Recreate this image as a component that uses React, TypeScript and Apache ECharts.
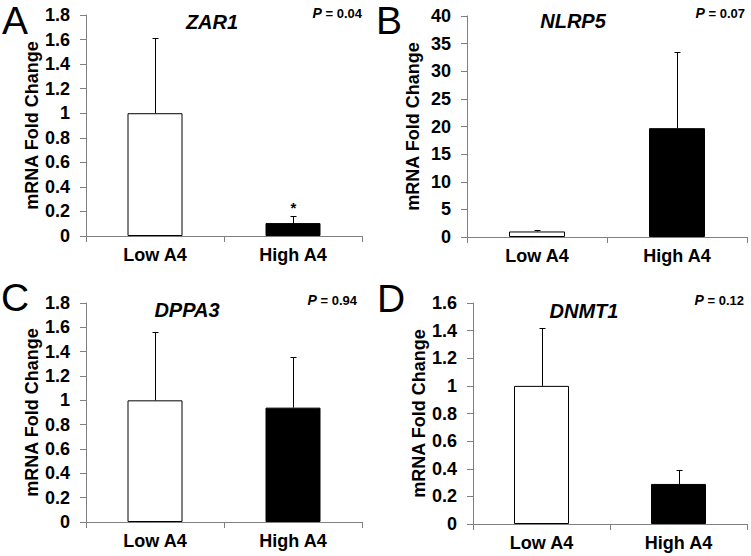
import React, { useEffect, useRef } from "react";
import * as echarts from "echarts";

// ---- data ----
const categories = ["Low A4", "High A4"];
const genes = ["ZAR1", "NLRP5", "DPPA3", "DNMT1"];
const panelLetters = ["A", "B", "C", "D"];
const pValues = ["0.04", "0.07", "0.94", "0.12"];

const zar1Mean = [1.0, 0.105];
const zar1ErrTop = [1.61, 0.165];
const zar1Marks = ["", "*"];

const nlrp5Mean = [1.0, 19.7];
const nlrp5ErrTop = [1.3, 33.5];
const nlrp5Marks = ["", ""];

const dppa3Mean = [1.0, 0.94];
const dppa3ErrTop = [1.565, 1.355];
const dppa3Marks = ["", ""];

const dnmt1Mean = [1.0, 0.29];
const dnmt1ErrTop = [1.42, 0.39];
const dnmt1Marks = ["", ""];

const yMax = [1.8, 40, 1.8, 1.6];
const yInterval = [0.2, 5, 0.2, 0.2];

const means = [zar1Mean, nlrp5Mean, dppa3Mean, dnmt1Mean];
const errTops = [zar1ErrTop, nlrp5ErrTop, dppa3ErrTop, dnmt1ErrTop];
const marks = [zar1Marks, nlrp5Marks, dppa3Marks, dnmt1Marks];

// ---- layout ----
const grids = [
  { left: 86, top: 15, width: 276, height: 221 },
  { left: 467, top: 16, width: 280, height: 221 },
  { left: 86, top: 303, width: 276, height: 219 },
  { left: 473, top: 303, width: 274, height: 221 },
];
const barWidths = [55, 56, 55, 55];
const titlePos = [
  [212, 22],
  [573, 21],
  [187, 310],
  [584, 311],
];
const pPos = [
  [362, 13],
  [745, 13],
  [357, 300],
  [744, 300],
];
const letterPos = [
  [2, 1],
  [376, 1],
  [1, 278],
  [377, 279],
];

const FONT = '"Liberation Sans", Arial, sans-serif';
const AXIS_COLOR = "#808080";

export default function App() {
  const ref = useRef<HTMLDivElement>(null);
  useEffect(() => {
    document.body.style.margin = "0";
    const chart = echarts.init(ref.current!, null, { renderer: "svg" });

    const xAxis: any[] = [];
    const yAxis: any[] = [];
    const series: any[] = [];
    const graphic: any[] = [];

    for (let i = 0; i < 4; i++) {
      xAxis.push({
        type: "category",
        gridIndex: i,
        data: categories,
        axisLine: { lineStyle: { color: AXIS_COLOR, width: 1 } },
        axisTick: { show: true, length: 6, lineStyle: { color: AXIS_COLOR } },
        axisLabel: {
          color: "#000",
          fontFamily: FONT,
          fontWeight: "bold",
          fontSize: 18,
          margin: 10,
        },
      });
      yAxis.push({
        type: "value",
        gridIndex: i,
        min: 0,
        max: yMax[i],
        interval: yInterval[i],
        name: "mRNA Fold Change",
        nameLocation: "middle",
        nameRotate: 90,
        nameGap: 45,
        nameTextStyle: {
          color: "#000",
          fontFamily: FONT,
          fontWeight: "bold",
          fontSize: 18,
        },
        axisLine: { show: true, lineStyle: { color: AXIS_COLOR, width: 1 } },
        axisTick: { show: true, length: 6, lineStyle: { color: AXIS_COLOR } },
        splitLine: { show: false },
        axisLabel: {
          color: "#000",
          fontFamily: FONT,
          fontWeight: "bold",
          fontSize: 18,
          margin: 16,
        },
      });

      series.push({
        type: "bar",
        xAxisIndex: i,
        yAxisIndex: i,
        barWidth: barWidths[i],
        data: means[i].map((v, k) => ({
          value: v,
          itemStyle: {
            color: k === 0 ? "#ffffff" : "#000000",
            borderColor: "#000",
            borderWidth: 1,
          },
        })),
        silent: true,
        z: 2,
      });

      const m = marks[i];
      series.push({
        type: "custom",
        xAxisIndex: i,
        yAxisIndex: i,
        data: means[i].map((v, k) => [k, v, errTops[i][k]]),
        encode: { x: 0, y: [1, 2] },
        z: 3,
        silent: true,
        renderItem: (params: any, api: any) => {
          const x = api.value(0);
          const mean = api.value(1);
          const top = api.value(2);
          const p0 = api.coord([x, mean]);
          const p1 = api.coord([x, top]);
          const cx = Math.round(p0[0]) + 0.5;
          const ty = Math.round(p1[1]) + 0.5;
          const cap = 3;
          const children: any[] = [
            {
              type: "line",
              shape: { x1: cx, y1: p0[1], x2: cx, y2: ty },
              style: { stroke: "#000", lineWidth: 1 },
            },
            {
              type: "line",
              shape: { x1: cx - cap, y1: ty, x2: cx + cap, y2: ty },
              style: { stroke: "#000", lineWidth: 1 },
            },
          ];
          const mk = m[params.dataIndex];
          if (mk) {
            children.push({
              type: "text",
              x: cx,
              y: ty - 2,
              style: {
                text: mk,
                font: `bold 15px ${FONT}`,
                align: "center",
                verticalAlign: "bottom",
                fill: "#000",
              },
            });
          }
          return { type: "group", children };
        },
      });

      graphic.push({
        type: "text",
        x: titlePos[i][0],
        y: titlePos[i][1],
        style: {
          text: genes[i],
          font: `italic bold 20px ${FONT}`,
          align: "center",
          verticalAlign: "middle",
          fill: "#000",
        },
      });
      graphic.push({
        type: "text",
        x: pPos[i][0],
        y: pPos[i][1],
        style: {
          text: `{p|P} = ${pValues[i]}`,
          font: `bold 13px ${FONT}`,
          align: "right",
          verticalAlign: "middle",
          fill: "#000",
          rich: {
            p: {
              fontStyle: "italic",
              fontWeight: "bold",
              fontSize: 14,
              fontFamily: FONT,
              fill: "#000",
            },
          },
        },
      });
      graphic.push({
        type: "text",
        x: letterPos[i][0],
        y: letterPos[i][1],
        style: {
          text: panelLetters[i],
          font: `normal 39px ${FONT}`,
          align: "left",
          verticalAlign: "top",
          fill: "#000",
        },
      });
    }

    chart.setOption({
      animation: false,
      backgroundColor: "#ffffff",
      grid: grids.map((g) => ({ ...g, containLabel: false })),
      xAxis,
      yAxis,
      series,
      graphic,
    });
    return () => chart.dispose();
  }, []);
  return <div ref={ref} style={{ width: 751, height: 556 }} />;
}
